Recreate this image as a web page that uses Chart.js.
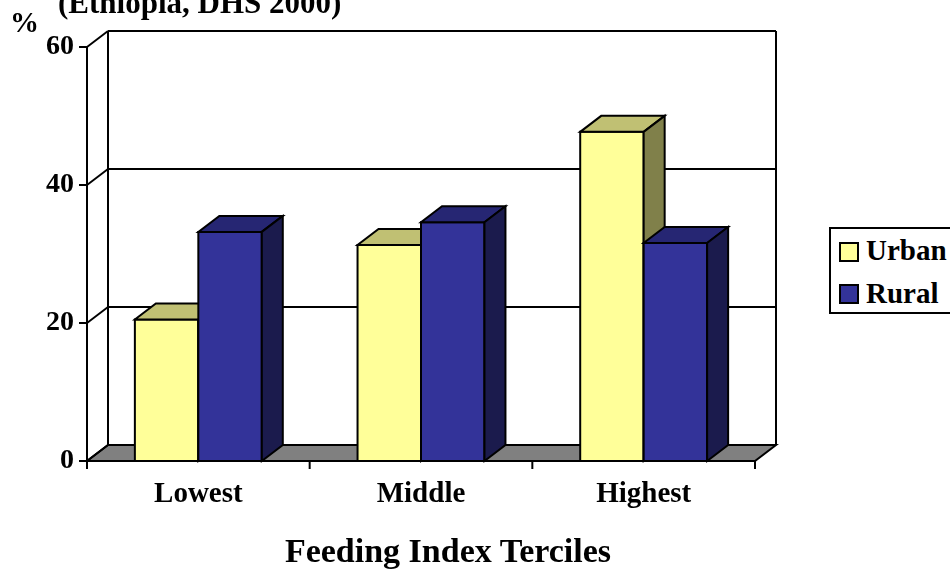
<!DOCTYPE html>
<html>
<head>
<meta charset="utf-8">
<script src="https://cdn.jsdelivr.net/npm/chart.js@4.4.1/dist/chart.umd.min.js"></script>
<style>
    body { margin: 0; background: #fff; overflow: hidden; }
    #wrap { position: relative; width: 950px; height: 569px; overflow: hidden; }
    #wrap canvas { position: absolute; left: 0; top: 0; }
    .txt { position: absolute; font-family: "Liberation Serif", "Times New Roman", serif; font-weight: bold; color: #000; line-height: 1; white-space: nowrap; }
    #legend { position: absolute; left: 829px; top: 227px; width: 140px; height: 83px; border: 2px solid #000; background: #fff; }
    .swatch { position: absolute; left: 8px; width: 16px; height: 16px; border: 2px solid #000; }
</style>
</head>
<body>
<div id="wrap">
    <canvas id="graphWidget" width="950" height="569"></canvas>
    <div class="txt" style="left:58px; top:-13px; font-size:31px;">(Ethiopia, DHS 2000)</div>
    <div class="txt" style="left:10px; top:8px; font-size:29px;">%</div>
    <div class="txt" style="left:248px; width:400px; text-align:center; top:534px; font-size:34px;">Feeding Index Terciles</div>
    <div id="legend">
        <div class="swatch" style="top:13px; background:#FFFF99;"></div>
        <div class="txt" style="left:35px; top:7px; font-size:29px;">Urban</div>
        <div class="swatch" style="top:55px; background:#333399;"></div>
        <div class="txt" style="left:35px; top:50px; font-size:29px;">Rural</div>
    </div>
</div>
<script>
var categories = ["Lowest", "Middle", "Highest"];
var urban = [20.5, 31.3, 47.7];
var rural = [33.2, 34.6, 31.6];
var yTicks = [0, 20, 40, 60];

// depth of the fake 3d box
var DX = 21;
var DY = -16;

var faces = [
    { front: '#FFFF99', top: '#C0C073', side: '#80804A' },
    { front: '#333399', top: '#262673', side: '#1B1B4D' }
];

function poly(ctx, pts, fill) {
    ctx.beginPath();
    ctx.moveTo(pts[0][0], pts[0][1]);
    for (var i = 1; i < pts.length; i++)
        ctx.lineTo(pts[i][0], pts[i][1]);
    ctx.closePath();
    if (fill) {
        ctx.fillStyle = fill;
        ctx.fill();
    }
    ctx.stroke();
}

function line(ctx, x1, y1, x2, y2) {
    ctx.beginPath();
    ctx.moveTo(x1, y1);
    ctx.lineTo(x2, y2);
    ctx.stroke();
}

var box3d = {
    id: 'box3d',
    beforeDatasetsDraw: function (chart) {
        var ctx = chart.ctx;
        var a = chart.chartArea;
        var ys = chart.scales.y;
        var xs = chart.scales.x;

        ctx.save();
        ctx.lineWidth = 2;
        ctx.strokeStyle = '#000';
        // floor
        poly(ctx, [[a.left, a.bottom], [a.right, a.bottom], [a.right + DX, a.bottom + DY], [a.left + DX, a.bottom + DY]], '#808080');
        // walls and gridlines
        for (var i in yTicks) {
            var py = ys.getPixelForValue(yTicks[i]);
            line(ctx, a.left, py, a.left + DX, py + DY);
            line(ctx, a.left + DX, py + DY, a.right + DX, py + DY);
            line(ctx, a.left - 8, py, a.left, py);
        }
        line(ctx, a.left + DX, a.top + DY, a.left + DX, a.bottom + DY);
        line(ctx, a.right + DX, a.top + DY, a.right + DX, a.bottom + DY);
        // front axes
        line(ctx, a.left, a.top, a.left, a.bottom);
        line(ctx, a.left, a.bottom, a.right, a.bottom);
        for (var k = 0; k <= categories.length; k++) {
            var px = xs.getPixelForValue(k - 0.5);
            line(ctx, px, a.bottom, px, a.bottom + 8);
        }
        ctx.restore();
    },
    afterDatasetsDraw: function (chart) {
        var ctx = chart.ctx;
        ctx.save();
        ctx.lineWidth = 2;
        ctx.strokeStyle = '#000';
        ctx.lineJoin = 'miter';
        for (var i = 0; i < categories.length; i++) {
            for (var d = 0; d < chart.data.datasets.length; d++) {
                var el = chart.getDatasetMeta(d).data[i];
                var l = el.x - el.width / 2;
                var r = el.x + el.width / 2;
                var t = el.y;
                var b = el.base;
                poly(ctx, [[l, t], [r, t], [r, b], [l, b]], faces[d].front);
                poly(ctx, [[l, t], [r, t], [r + DX, t + DY], [l + DX, t + DY]], faces[d].top);
                poly(ctx, [[r, t], [r + DX, t + DY], [r + DX, b + DY], [r, b]], faces[d].side);
            }
        }
        ctx.restore();
    }
};

var serif = '"Liberation Serif", "Times New Roman", serif';

function graphic() {
    var ctx = document.getElementById('graphWidget').getContext('2d');
    var chart = new Chart(ctx, {
        type: 'bar',
        data: {
            labels: categories,
            datasets: [{
                label: "Urban",
                backgroundColor: faces[0].front,
                data: urban,
                barPercentage: 1,
                categoryPercentage: 0.57
            }, {
                label: "Rural",
                backgroundColor: faces[1].front,
                data: rural,
                barPercentage: 1,
                categoryPercentage: 0.57
            }]
        },
        options: {
            responsive: false,
            animation: false,
            layout: { padding: { top: 47, right: 195, left: 0, bottom: 0 } },
            plugins: {
                legend: { display: false },
                tooltip: { enabled: false }
            },
            scales: {
                x: {
                    grid: { display: false, drawTicks: false },
                    border: { display: false },
                    ticks: { color: '#000', padding: 16, font: { family: serif, size: 29, weight: 'bold' } },
                    afterFit: function (s) { s.height = 108; }
                },
                y: {
                    min: 0,
                    max: 60,
                    grid: { display: false, drawTicks: false },
                    border: { display: false },
                    ticks: { stepSize: 20, color: '#000', padding: 13, font: { family: serif, size: 28, weight: 'bold' } },
                    afterBuildTicks: function (s) {
                        s.ticks = yTicks.map(function (v) { return { value: v }; });
                    },
                    afterFit: function (s) { s.width = 87; }
                }
            }
        },
        plugins: [box3d]
    });
}

graphic();
</script>
</body>
</html>
